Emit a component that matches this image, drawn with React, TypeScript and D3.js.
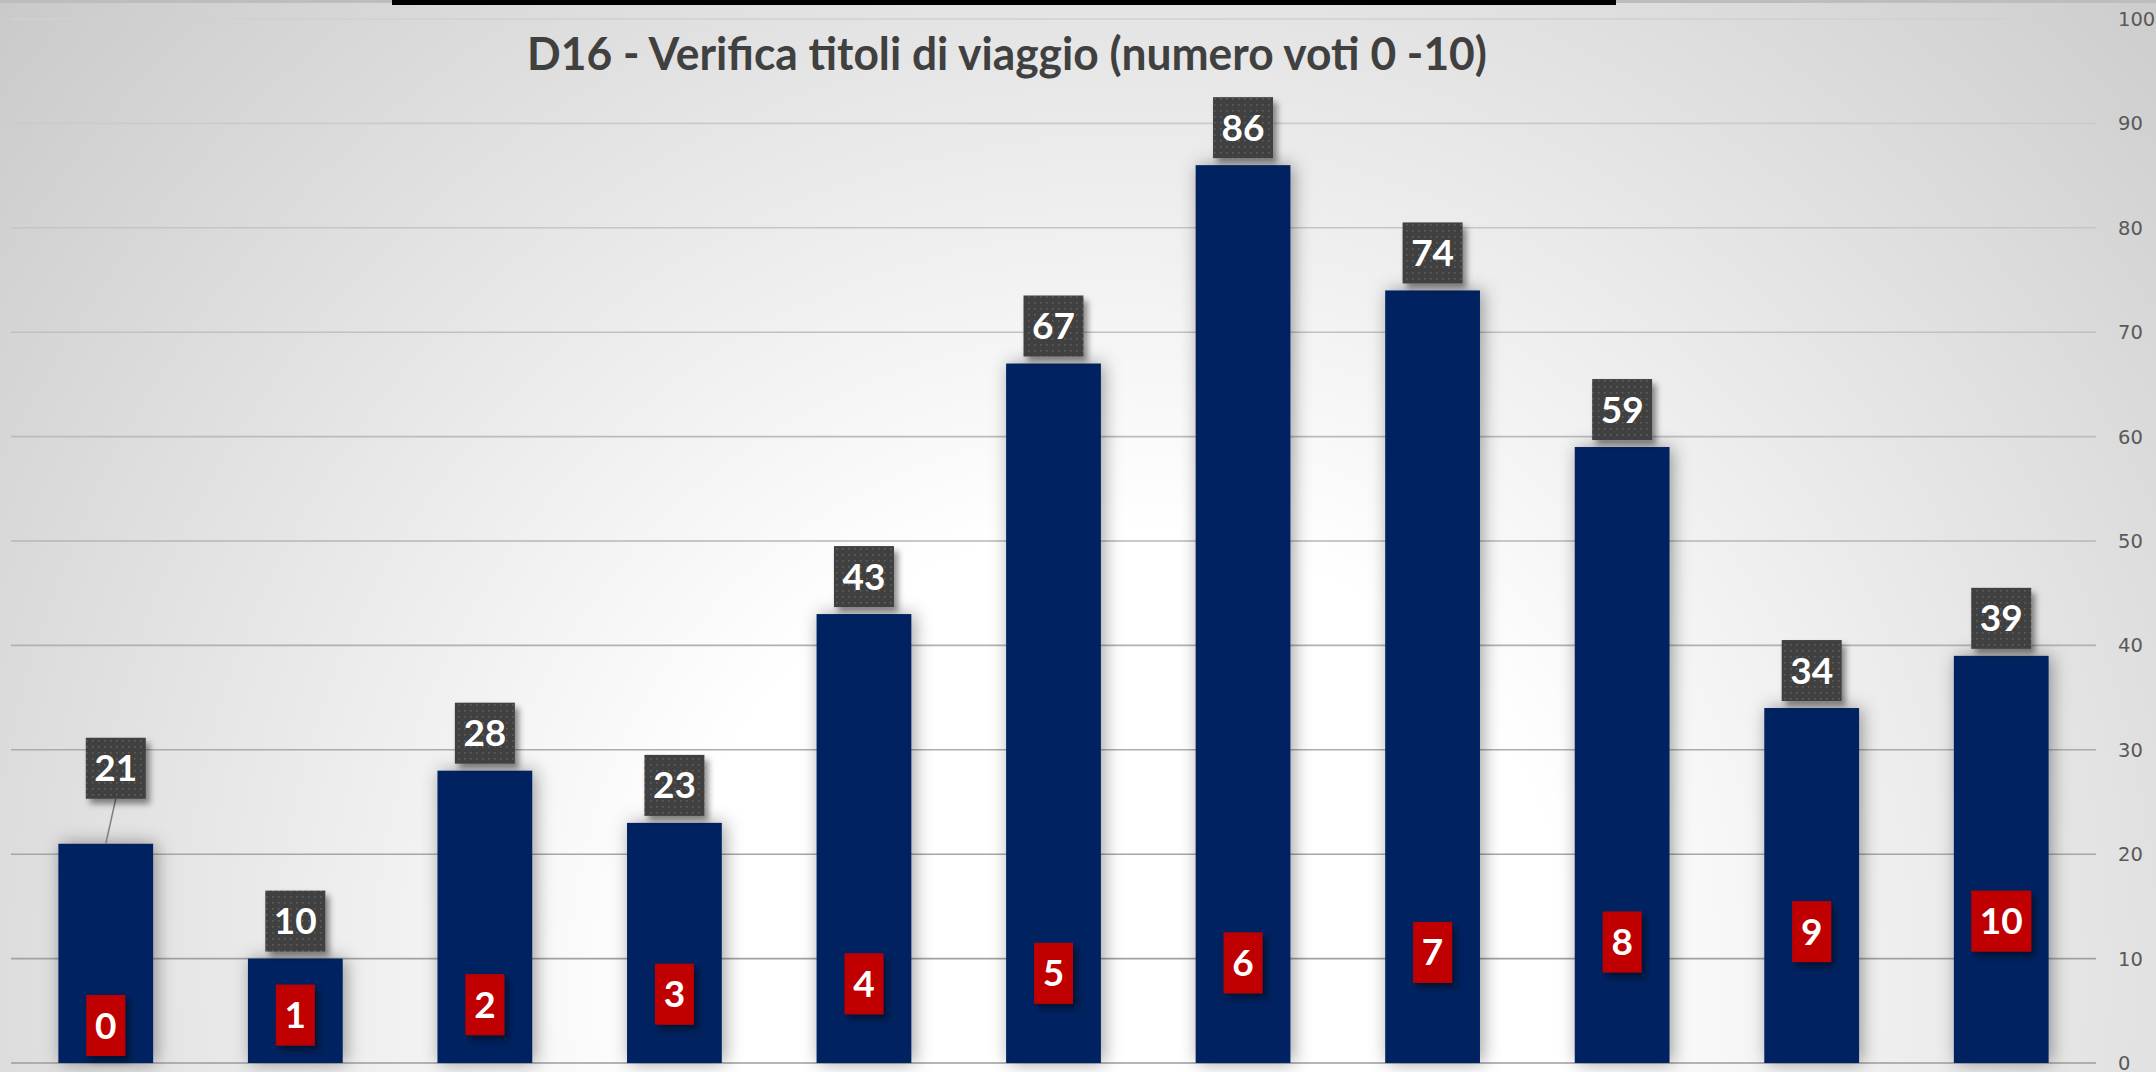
import React from "react";
import * as d3 from "d3";

const W = 2156;
const H = 1072;

const title = "D16 - Verifica titoli di viaggio (numero voti 0 -10)";
const categories = ["0", "1", "2", "3", "4", "5", "6", "7", "8", "9", "10"];
const votes = [21, 10, 28, 23, 43, 67, 86, 74, 59, 34, 39];
const yTicks = [0, 10, 20, 30, 40, 50, 60, 70, 80, 90, 100];
// manual nudge of the first value label (it has a leader line in the original)
const labelNudge: Record<string, [number, number]> = { "0": [10, -38] };

const BAR = "#002060";
const RED = "#C00000";
const BOX = "#404040";
const NUMFONT = "Lato, 'Open Sans', sans-serif";

function boxWidth(t: string) {
  return 18 + 21 * t.length;
}

export default function App() {
  const x = d3
    .scaleBand<string>()
    .domain(categories)
    .range([11, 2096])
    .paddingInner(0.5)
    .paddingOuter(0.25);
  const y = d3.scaleLinear().domain([0, 100]).range([1063, 19]);
  const bw = x.bandwidth();
  const BH = 61;
  const GAP = 7;

  return (
    <div style={{ position: "absolute", left: 0, top: 0 }}>
      <svg width={W} height={H} style={{ display: "block" }}>
        <defs>
          <radialGradient id="bg" gradientUnits="userSpaceOnUse" cx={1120} cy={980} r={1500}>
            <stop offset="0" stopColor="#ffffff" />
            <stop offset="0.3" stopColor="#ffffff" />
            <stop offset="1" stopColor="#c9c9c9" />
          </radialGradient>
          <linearGradient id="gridg" gradientUnits="userSpaceOnUse" x1={0} y1={19} x2={0} y2={1063}>
            <stop offset="0" stopColor="#d0d0d0" />
            <stop offset="1" stopColor="#9c9c9c" />
          </linearGradient>
          <pattern id="dots" width={6} height={6} patternUnits="userSpaceOnUse">
            <rect width={6} height={6} fill={BOX} />
            <rect x={2} y={2} width={1.6} height={1.6} fill="#5e5e5e" />
          </pattern>
          <filter id="barShadow" x="-60%" y="-20%" width="220%" height="140%">
            <feDropShadow dx={3} dy={0} stdDeviation={9} floodColor="#000" floodOpacity={0.38} />
          </filter>
          <filter id="boxShadow" x="-40%" y="-40%" width="180%" height="180%">
            <feDropShadow dx={4} dy={5} stdDeviation={3} floodColor="#000" floodOpacity={0.45} />
          </filter>
        </defs>

        <rect x={0} y={0} width={W} height={H} fill="url(#bg)" />
        <rect x={0} y={0} width={W} height={3} fill="#bdbdbd" />
        <rect x={392} y={0} width={1224} height={5} fill="#000" />

        {/* gridlines */}
        <g>
          {yTicks.map((t) => (
            <line
              key={t}
              x1={11}
              x2={2096}
              y1={y(t)}
              y2={y(t)}
              stroke="url(#gridg)"
              strokeWidth={1.6}
            />
          ))}
        </g>

        {/* right axis labels */}
        <g fontFamily="'DejaVu Sans', Verdana, sans-serif" fontSize={19.5} fill="#595959">
          {yTicks.map((t) => (
            <text key={t} x={2118} y={y(t)} dy="0.36em" textAnchor="start">
              {t}
            </text>
          ))}
        </g>

        {/* title */}
        <text
          x={1007}
          y={70}
          textAnchor="middle"
          fontFamily="Lato, 'Open Sans', sans-serif"
          fontWeight="bold"
          fontSize={46}
          fill="#404040"
          textLength={960}
          lengthAdjust="spacingAndGlyphs"
        >
          {title}
        </text>

        {/* bars */}
        <g filter="url(#barShadow)">
          {categories.map((c, i) => (
            <rect
              key={c}
              x={x(c)}
              y={y(votes[i])}
              width={bw}
              height={y(0) - y(votes[i])}
              fill={BAR}
            />
          ))}
        </g>

        {/* leader lines */}
        {categories.map((c, i) => {
          const n = labelNudge[c];
          if (!n) return null;
          const cx = (x(c) as number) + bw / 2;
          const top = y(votes[i]);
          return (
            <line
              key={"ll" + c}
              x1={cx + n[0]}
              y1={top - GAP + n[1]}
              x2={cx}
              y2={top}
              stroke="#808080"
              strokeWidth={1.5}
            />
          );
        })}

        {/* red category labels */}
        {categories.map((c) => {
          const cx = (x(c) as number) + bw / 2;
          const w = boxWidth(c);
          const bottom = y(+c) - GAP;
          return (
            <g key={"cl" + c}>
              <rect
                x={cx - w / 2}
                y={bottom - BH}
                width={w}
                height={BH}
                fill={RED}
                filter="url(#boxShadow)"
              />
              <text
                x={cx}
                y={bottom - BH / 2 + 13}
                textAnchor="middle"
                fontFamily={NUMFONT}
                fontWeight="bold"
                fontSize={37}
                fill="#fff"
              >
                {c}
              </text>
            </g>
          );
        })}

        {/* value labels */}
        {categories.map((c, i) => {
          const n = labelNudge[c] || [0, 0];
          const cx = (x(c) as number) + bw / 2 + n[0];
          const t = String(votes[i]);
          const w = boxWidth(t);
          const bottom = y(votes[i]) - GAP + n[1];
          return (
            <g key={"vl" + c}>
              <rect
                x={cx - w / 2}
                y={bottom - BH}
                width={w}
                height={BH}
                fill="url(#dots)"
                filter="url(#boxShadow)"
              />
              <text
                x={cx}
                y={bottom - BH / 2 + 13}
                textAnchor="middle"
                fontFamily={NUMFONT}
                fontWeight="bold"
                fontSize={37}
                fill="#fff"
              >
                {t}
              </text>
            </g>
          );
        })}
      </svg>
    </div>
  );
}
